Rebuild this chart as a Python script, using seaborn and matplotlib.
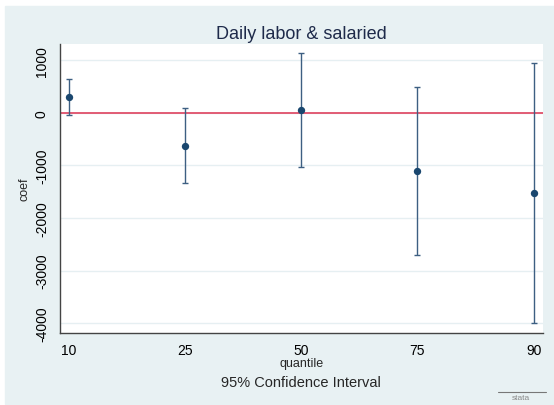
import matplotlib
matplotlib.use("Agg")
import matplotlib.pyplot as plt
import seaborn as sns
import pandas as pd

# quantile regression coefficients with 95% CI
quantiles = ["10", "25", "50", "75", "90"]
coef = [300, -630, 55, -1100, -1530]
ci_low = [-45, -1335, -1030, -2700, -4000]
ci_high = [645, 90, 1135, 495, 945]

y_ticks = [1000, 0, -1000, -2000, -3000, -4000]

bg = "#e8f1f3"
navy = "#1a476f"
bar_col = "#3d5f82"

sns.set_theme(style="white")
plt.rcParams["font.family"] = ["Liberation Sans", "DejaVu Sans"]

df = pd.DataFrame({"quantile": quantiles, "coef": coef,
                   "lo": ci_low, "hi": ci_high})
df["pos"] = range(len(df))

fig = plt.figure(figsize=(5.54, 4.06), dpi=100, facecolor="white")
# light bluish-gray graph region (stata s2color look)
fig.patches.append(plt.Rectangle((5 / 554, 1 / 406), 549 / 554, 398 / 406,
                                 transform=fig.transFigure, color=bg, zorder=-10))
ax = fig.add_axes([60 / 554, 1 - 334 / 406, 483 / 554, 289 / 406])
ax.set_facecolor("white")

# grid lines
for t in y_ticks:
    ax.axhline(t, color="#e6eff2", lw=1, zorder=0)
ax.axhline(0, color="#e0506a", lw=1.3, zorder=1)

ax.errorbar(df["pos"], df["coef"],
            yerr=[df["coef"] - df["lo"], df["hi"] - df["coef"]],
            fmt="none", ecolor=bar_col, elinewidth=1.0, capsize=2.5,
            capthick=1.0, zorder=2)
sns.scatterplot(data=df, x="pos", y="coef", ax=ax, color=navy, s=28,
                edgecolor=navy, linewidth=0, zorder=3)

ax.set_xlim(-0.075, 4.08)
ax.set_ylim(-4185, 1310)
ax.set_xticks(df["pos"])
ax.set_xticklabels(quantiles)
ax.set_yticks(y_ticks)
ax.set_yticklabels([str(t) for t in y_ticks], rotation=90, va="center")

for s in ["top", "right"]:
    ax.spines[s].set_visible(False)
for s in ["left", "bottom"]:
    ax.spines[s].set_color("#444444")
    ax.spines[s].set_linewidth(1.0)
ax.tick_params(axis="both", direction="out", length=4, width=0.8,
               color="#444444", labelsize=10, labelcolor="black", pad=4)
ax.tick_params(axis="x", pad=3)

ax.set_xlabel("quantile", fontsize=9, labelpad=0)
ax.set_ylabel("coef", fontsize=9, labelpad=3)
ax.set_title("Daily labor & salaried", fontsize=13, color="#1e2a4a", pad=4)

fig.text(301 / 554, 1 - 383 / 406, "95% Confidence Interval", ha="center",
         va="center", fontsize=10.5)
fig.text(521 / 554, 1 - 399 / 406, "stata", ha="center", va="center",
         fontsize=6, color="#888888")
fig.add_artist(plt.Line2D([498 / 554, 546 / 554], [1 - 393 / 406, 1 - 393 / 406],
                          transform=fig.transFigure, color="#777777", lw=0.8))

fig.savefig("out.png", dpi=100, facecolor="white")
